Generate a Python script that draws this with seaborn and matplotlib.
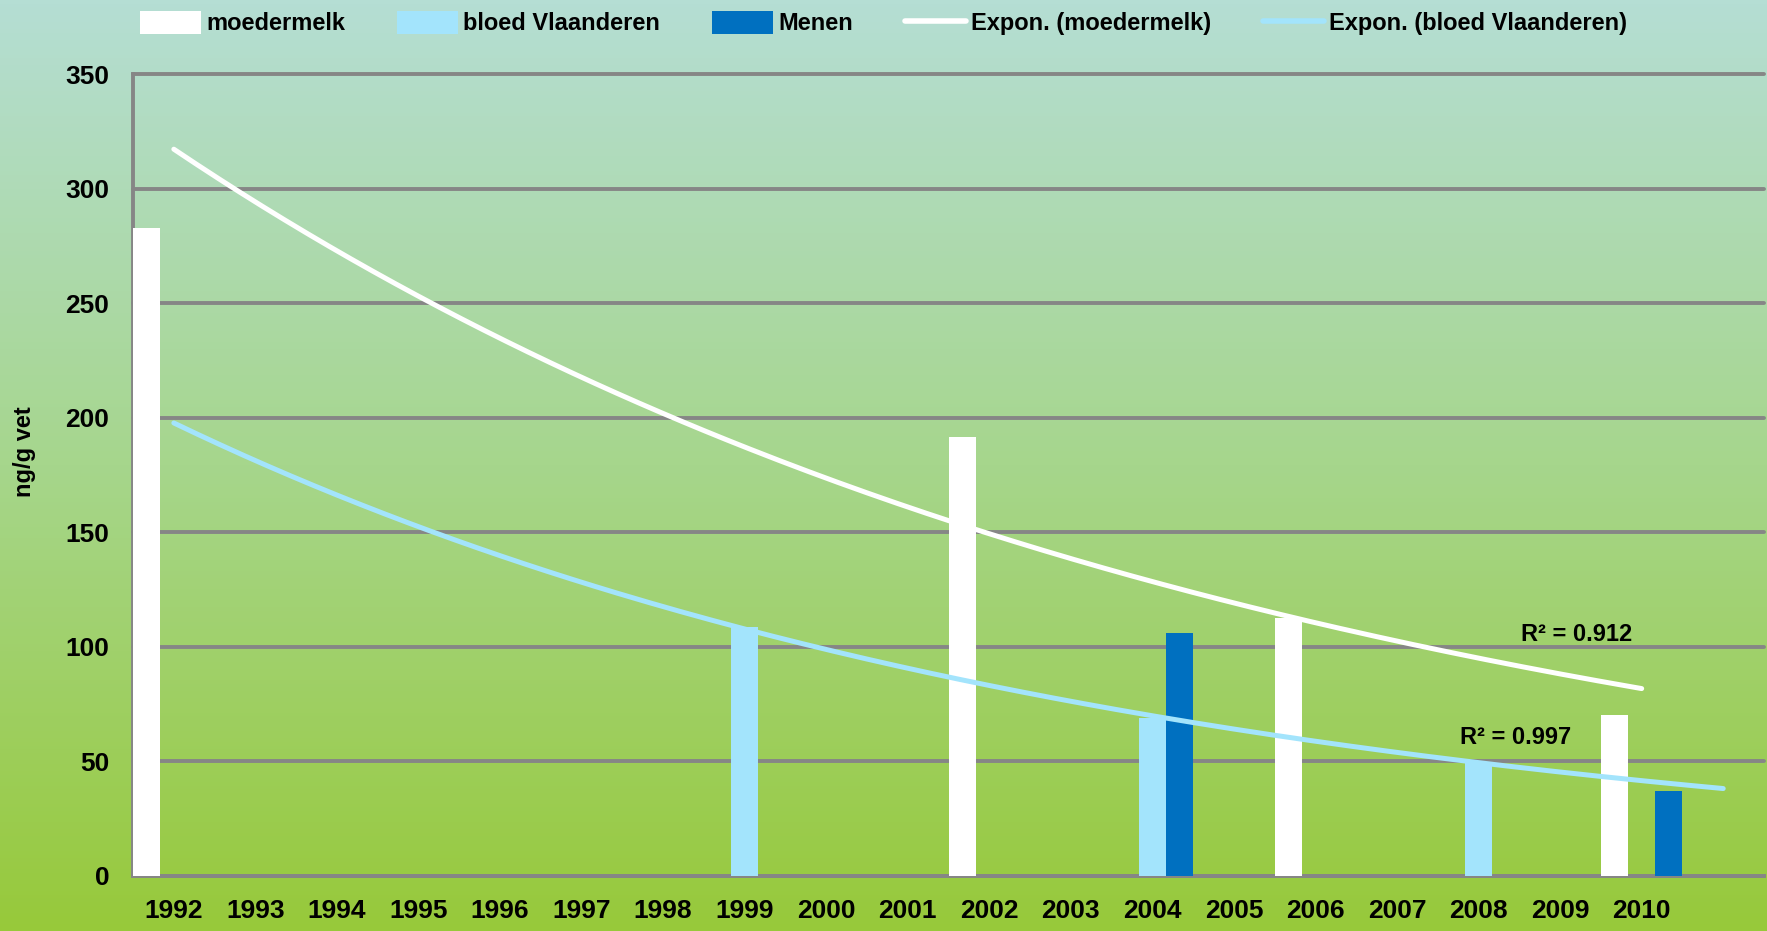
import matplotlib
matplotlib.use("Agg")
import matplotlib.pyplot as plt
import matplotlib.colors as mcolors
from matplotlib.lines import Line2D
from matplotlib.patches import Patch
import numpy as np
import pandas as pd
import seaborn as sns

# --- data -------------------------------------------------------------
years = [str(y) for y in range(1992, 2011)] + [" "]
moedermelk_years = ["1992", "2002", "2006", "2010"]
moedermelk_vals = [283, 191.5, 112.5, 70.2]
bloed_years = ["1999", "2004", "2008"]
bloed_vals = [108.5, 68.8, 49.8]
menen_years = ["2004", "2010"]
menen_vals = [105.9, 37.1]
series = ["moedermelk", "bloed Vlaanderen", "Menen"]
colors = ["#ffffff", "#a3e4fc", "#0070c0"]
r2_labels = ["R² = 0.912", "R² = 0.997"]

df = pd.concat([
    pd.DataFrame({"jaar": moedermelk_years, "waarde": moedermelk_vals, "reeks": series[0]}),
    pd.DataFrame({"jaar": bloed_years, "waarde": bloed_vals, "reeks": series[1]}),
    pd.DataFrame({"jaar": menen_years, "waarde": menen_vals, "reeks": series[2]}),
], ignore_index=True)

sns.set_style("white")
plt.rcParams["font.family"] = ["Liberation Sans", "DejaVu Sans"]
plt.rcParams["font.weight"] = "bold"
plt.rcParams["text.color"] = "black"
plt.rcParams["xtick.labelcolor"] = "black"
plt.rcParams["ytick.labelcolor"] = "black"

GRID = "#868686"

fig = plt.figure(figsize=(17.67, 9.31), dpi=100)

# gradient background over the whole figure
bg = fig.add_axes([0, 0, 1, 1], zorder=-10)
cmap = mcolors.LinearSegmentedColormap.from_list(
    "bg", ["#b5ded4", "#a6d68c", "#97c93a"])
bg.imshow(np.linspace(0, 1, 256)[:, None], aspect="auto", cmap=cmap,
          extent=[0, 1, 0, 1])
bg.axis("off")

ax = fig.add_axes([0.0753, 0.0594, 0.9230, 0.8607])
ax.patch.set_alpha(0)

sns.barplot(data=df, x="jaar", y="waarde", hue="reeks", order=years,
            hue_order=series, palette=colors, width=1.0, dodge=True,
            saturation=1, legend=False, ax=ax, zorder=3,
            edgecolor="none", linewidth=0)

# exponential trendlines (Excel style, x = category number)
def expon_fit(cat_years, vals, x_end):
    xi = np.array([years.index(y) + 1 for y in cat_years], dtype=float)
    b, a = np.polyfit(xi, np.log(vals), 1)
    xs = np.linspace(1, x_end, 200)
    return xs - 1, np.exp(a + b * xs)

xm, ym = expon_fit(moedermelk_years, moedermelk_vals, 19)
xb, yb = expon_fit(bloed_years, bloed_vals, 20)
sns.lineplot(x=xm, y=ym, color="white", lw=3.6, ax=ax, zorder=4)
sns.lineplot(x=xb, y=yb, color="#a3e4fc", lw=3.6, ax=ax, zorder=4)

ax.text(17.2, 105.5, r2_labels[0], fontsize=17, fontweight="bold",
        ha="center", va="center", zorder=5)
ax.text(16.45, 60.5, r2_labels[1], fontsize=17, fontweight="bold",
        ha="center", va="center", zorder=5)

ax.set_xlim(-0.5, 19.5)
ax.set_ylim(0, 350)
ax.set_yticks(range(0, 351, 50))
ax.yaxis.grid(True, color=GRID, lw=2.8, zorder=1)
ax.set_axisbelow(True)
for gl in ax.get_ygridlines():
    gl.set_clip_on(False)

# x: tick marks at the category borders, labels in the middle
ax.set_xticks(np.arange(-0.5, 20, 1))
ax.set_xticklabels([])
ax.set_xticks(np.arange(0, 20), minor=True)
ax.set_xticklabels(years, minor=True)
ax.tick_params(axis="x", which="major", length=9, width=2.6, color=GRID,
               direction="out")
ax.tick_params(axis="x", which="minor", length=0, pad=17, labelsize=19)
ax.tick_params(axis="y", length=8, width=2.6, color=GRID, pad=9,
               labelsize=19)
for lab in ax.get_xticklabels(minor=True) + ax.get_yticklabels():
    lab.set_fontweight("bold")

ax.set_xlabel("")
ax.set_ylabel("")
for s in ["top", "right"]:
    ax.spines[s].set_visible(False)
for s in ["left", "bottom"]:
    ax.spines[s].set_color(GRID)
    ax.spines[s].set_linewidth(2.8)

fig.text(0.014, 0.515, "ng/g vet", rotation=90, fontsize=17,
         fontweight="bold", ha="center", va="center")

handles = [
    Patch(facecolor=colors[0], edgecolor="none"),
    Patch(facecolor=colors[1], edgecolor="none"),
    Patch(facecolor=colors[2], edgecolor="none"),
    Line2D([], [], color="white", lw=4),
    Line2D([], [], color="#a3e4fc", lw=4),
]
labels = series + ["Expon. (moedermelk)", "Expon. (bloed Vlaanderen)"]
fig.legend(handles, labels, loc="center", bbox_to_anchor=(0.5, 0.975),
           ncol=5, frameon=False, handlelength=2.6,
           handleheight=1.1, handletextpad=0.2, columnspacing=2.2,
           prop={"weight": "bold", "size": 17})

fig.savefig("out.png", dpi=100)
